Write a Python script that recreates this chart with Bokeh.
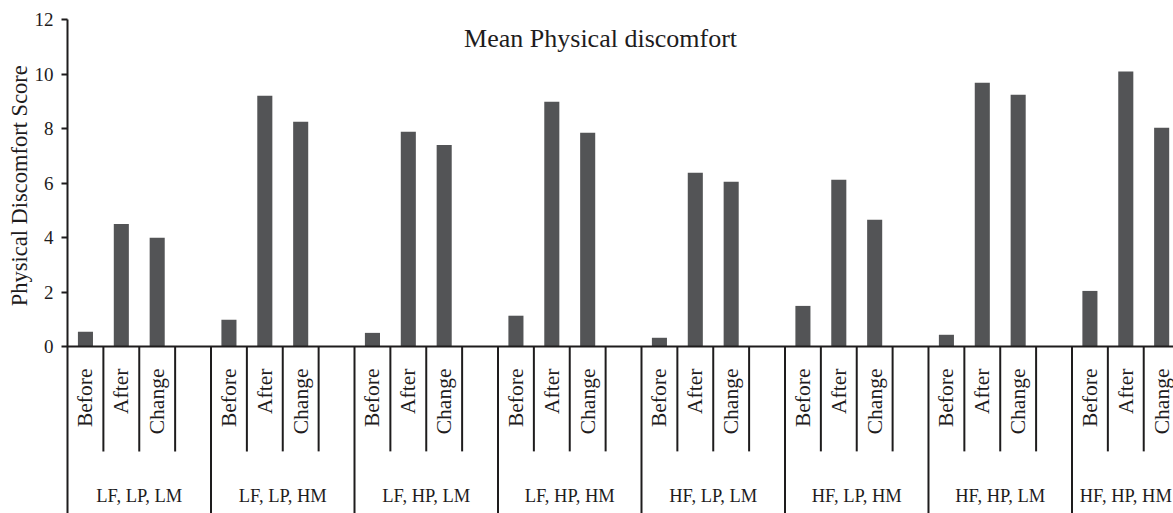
import math
from bokeh.plotting import figure
from bokeh.models import Range1d, FixedTicker
from bokeh.core.properties import value
from bokeh.embed import file_html
from bokeh.resources import INLINE

# ---------------- data ----------------
groups = ["LF, LP, LM", "LF, LP, HM", "LF, HP, LM", "LF, HP, HM",
          "HF, LP, LM", "HF, LP, HM", "HF, HP, LM", "HF, HP, HM"]
phases = ["Before", "After", "Change"]
before = [0.54, 0.98, 0.50, 1.13, 0.32, 1.49, 0.43, 2.04]
after = [4.50, 9.20, 7.88, 8.98, 6.38, 6.12, 9.68, 10.09]
change = [3.99, 8.25, 7.40, 7.85, 6.05, 4.65, 9.24, 8.03]
y_ticks = [0, 2, 4, 6, 8, 10, 12]
title_text = "Mean Physical discomfort"
y_label_text = "Physical Discomfort Score"

FONT = "Liberation Serif"
INK = "#1e1c1d"
BAR = "#535456"

SLOTS = 4            # 3 phases + 1 empty gap per group
X_START = -1.868     # room on the left for the y axis labels
X_END = 30.83
Y_MAX = 12           # top of the value axis
Y_TOP = 12.70        # room above for the top tick label
Y_BOTTOM = -6.13
SHORT_END = -3.85    # end of the separators between phases
CAT_TOP = -0.81      # top of the rotated phase labels
GRP_BASE = -5.47     # baseline of the group labels

series = [before, after, change]
bx, btop, btxt = [], [], []
for g in range(len(groups)):
    for c, vals in enumerate(series):
        bx.append(g * SLOTS + c + 0.5)
        btop.append(vals[g])
        btxt.append(phases[c])

p = figure(width=1173, height=513, output_backend="svg", toolbar_location=None,
           x_range=Range1d(X_START, X_END), y_range=Range1d(Y_BOTTOM, Y_TOP),
           min_border_left=0, min_border_right=0, min_border_top=0,
           min_border_bottom=0)
p.outline_line_color = None
p.xgrid.visible = False
p.ygrid.visible = False
p.xaxis.visible = False
p.background_fill_color = "white"
p.border_fill_color = "white"

# bars
p.vbar(x=bx, top=btop, bottom=0, width=0.42, fill_color=BAR, line_color=None)

# baseline (x axis line)
p.segment(x0=[0], y0=[0], x1=[X_END], y1=[0], line_color=INK, line_width=2)

# short separators between phases, long ones between groups
sx = [g * SLOTS + k for g in range(len(groups)) for k in (1, 2, 3)]
p.segment(x0=sx, y0=[0] * len(sx), x1=sx, y1=[SHORT_END] * len(sx),
          line_color=INK, line_width=2)
lx = [g * SLOTS for g in range(1, len(groups))]
p.segment(x0=lx, y0=[0] * len(lx), x1=lx, y1=[Y_BOTTOM] * len(lx),
          line_color=INK, line_width=2)

# phase labels (rotated)
p.text(x=bx, y=[CAT_TOP] * len(bx), text=btxt, angle=math.pi / 2,
       text_align="right", text_baseline="middle",
       text_font=value(FONT), text_font_size="21.5px", text_color=INK)

# group labels
grp_x = [min(g * SLOTS + 2, X_END - 1.33) for g in range(len(groups))]
p.text(x=grp_x, y=[GRP_BASE] * len(groups), text=groups,
       text_align="center", text_baseline="alphabetic",
       text_font=value(FONT), text_font_size="18.5px", text_color=INK)

# title
p.text(x=[14.86], y=[11.29], text=[title_text], text_align="center",
       text_baseline="alphabetic", text_font=value(FONT),
       text_font_size="26px", text_color=INK)

# y axis title (centred on the 0..12 value span)
p.text(x=[-1.34], y=[Y_MAX / 2 - 0.1], text=[y_label_text], angle=math.pi / 2,
       text_align="center", text_baseline="middle", text_font=value(FONT),
       text_font_size="22.5px", text_color=INK)

# y axis pinned at x = 0, line running from the top value to the bottom
ya = p.yaxis[0]
ya.fixed_location = 0
ya.bounds = (Y_BOTTOM, Y_MAX)
ya.ticker = FixedTicker(ticks=y_ticks)
ya.major_tick_in = 0
ya.major_tick_out = 6
ya.minor_tick_in = 0
ya.minor_tick_out = 0
ya.axis_line_color = INK
ya.axis_line_width = 2
ya.major_tick_line_color = INK
ya.major_tick_line_width = 2
ya.major_label_text_font = FONT
ya.major_label_text_font_size = "19px"
ya.major_label_text_color = INK
ya.major_label_standoff = 8

open("out.html", "w").write(file_html(p, INLINE))
